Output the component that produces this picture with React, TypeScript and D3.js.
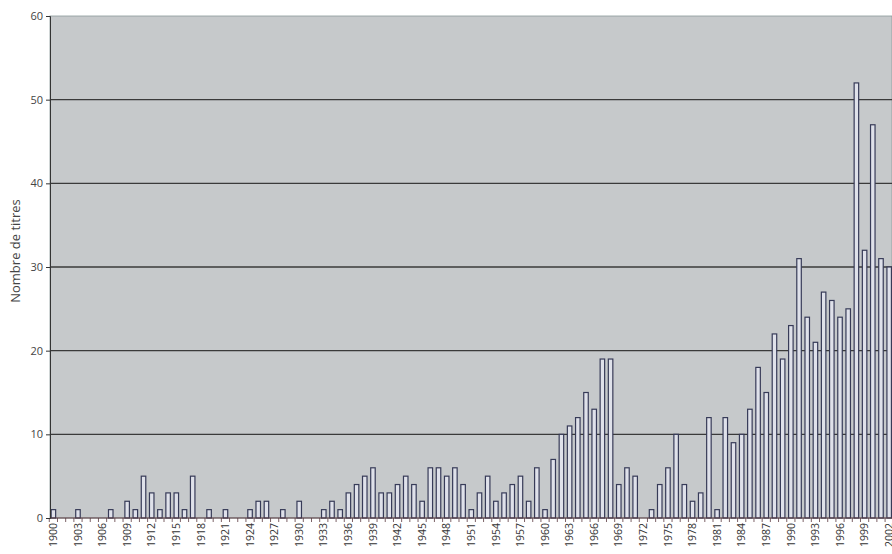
import * as d3 from 'd3'
import { useEffect, useRef } from 'react'

// years 1900..2002, one value per year
const firstYear = 1900
const counts = [
  1, 0, 0, 1, 0, 0, 0, 1, 0, 2, // 1900-1909
  1, 5, 3, 1, 3, 3, 1, 5, 0, 1, // 1910-1919
  0, 1, 0, 0, 1, 2, 2, 0, 1, 0, // 1920-1929
  2, 0, 0, 1, 2, 1, 3, 4, 5, 6, // 1930-1939
  3, 3, 4, 5, 4, 2, 6, 6, 5, 6, // 1940-1949
  4, 1, 3, 5, 2, 3, 4, 5, 2, 6, // 1950-1959
  1, 7, 10, 11, 12, 15, 13, 19, 19, 4, // 1960-1969
  6, 5, 0, 1, 4, 6, 10, 4, 2, 3, // 1970-1979
  12, 1, 12, 9, 10, 13, 18, 15, 22, 19, // 1980-1989
  23, 31, 24, 21, 27, 26, 24, 25, 52, 32, // 1990-1999
  47, 31, 30, // 2000-2002
]
const years = counts.map((_, i) => firstYear + i)
const yTicks = [0, 10, 20, 30, 40, 50, 60]
const yTitle = 'Nombre de titres'

const width = 892
const height = 554
const marginLeft = 50
const marginTop = 16
const bottom = 518
const step = 8.19

export default function App() {
  const gx = useRef<SVGGElement>(null)
  const gy = useRef<SVGGElement>(null)

  const x = d3
    .scaleBand<number>()
    .domain(years)
    .range([marginLeft - 0.5, marginLeft - 0.5 + years.length * step])
    .paddingInner(0.45)
    .paddingOuter(0.2)
  const y = d3.scaleLinear([0, 60], [bottom, marginTop])

  useEffect(() => {
    const ax = d3
      .axisBottom(x)
      .tickValues(years.filter((yr) => (yr - firstYear) % 3 === 0))
      .tickSize(0)
      .tickPadding(4)
    const g = d3.select(gx.current)
    g.call(ax)
    g.select('.domain').remove()
    g.selectAll('text')
      .attr('transform', 'rotate(-90)')
      .attr('text-anchor', 'end')
      .attr('dy', '0.35em')
      .attr('x', -5)
      .attr('y', 0)
      .attr('font-size', 10.5)
      .attr('font-family', 'Open Sans, sans-serif')
      .attr('fill', '#333')
  }, [x])

  useEffect(() => {
    const ay = d3.axisLeft(y).tickValues(yTicks).tickSize(4).tickPadding(3)
    const g = d3.select(gy.current)
    g.call(ay)
    g.select('.domain').attr('stroke', '#333')
    g.selectAll('.tick line').attr('stroke', '#333')
    g.selectAll('text')
      .attr('font-size', 11)
      .attr('font-family', 'Open Sans, sans-serif')
      .attr('fill', '#444')
  }, [y])

  const bw = x.bandwidth()

  return (
    <svg
      width={width}
      height={height}
      style={{ position: 'absolute', left: 0, top: 0, background: '#fff' }}
    >
      <rect
        x={marginLeft}
        y={marginTop}
        width={width - marginLeft}
        height={bottom - marginTop}
        fill="#c6c9cb"
        stroke="#8a9a9a"
        strokeWidth={0.8}
      />
      {yTicks
        .filter((t) => t > 0 && t < 60)
        .map((t) => (
          <line
            key={t}
            x1={marginLeft}
            x2={width}
            y1={y(t)}
            y2={y(t)}
            stroke="#3a3a3a"
            strokeWidth={1.3}
          />
        ))}
      <g>
        {counts.map((c, i) =>
          c > 0 ? (
            <rect
              key={i}
              x={x(years[i])}
              y={y(c)}
              width={bw}
              height={y(0) - y(c)}
              fill="#dfe1ea"
              stroke="#373b58"
              strokeWidth={1.2}
            />
          ) : null
        )}
      </g>
      {/* small ticks between bars */}
      <g stroke="#5a3a40" strokeWidth={0.8}>
        {years.map((yr) => {
          const xx = (x(yr) as number) - (x.step() - bw) / 2
          return <line key={yr} x1={xx} x2={xx} y1={bottom} y2={bottom + 4} />
        })}
      </g>
      <line x1={marginLeft} x2={width} y1={bottom} y2={bottom} stroke="#5a3a40" strokeWidth={1.2} />
      <g ref={gx} transform={`translate(0,${bottom})`} />
      <g ref={gy} transform={`translate(${marginLeft},0)`} />
      <text
        transform={`translate(20,251) rotate(-90)`}
        textAnchor="middle"
        fontSize={13}
        fontFamily="Open Sans, sans-serif"
        fill="#444"
      >
        {yTitle}
      </text>
    </svg>
  )
}
